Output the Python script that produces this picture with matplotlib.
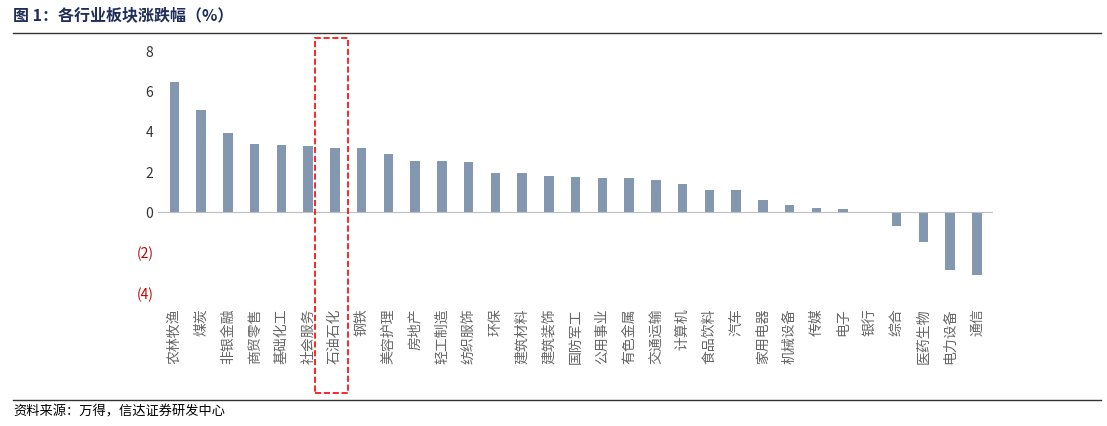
import matplotlib
matplotlib.use("Agg")
import matplotlib.pyplot as plt
from matplotlib.patches import Rectangle
from matplotlib.lines import Line2D

plt.rcParams['font.family'] = ['Noto Sans CJK SC', 'DejaVu Sans']

categories = ["农林牧渔","煤炭","非银金融","商贸零售","基础化工","社会服务","石油石化","钢铁","美容护理","房地产",
              "轻工制造","纺织服饰","环保","建筑材料","建筑装饰","国防军工","公用事业","有色金属","交通运输","计算机",
              "食品饮料","汽车","家用电器","机械设备","传媒","电子","银行","综合","医药生物","电力设备","通信"]
values = [6.45,5.1,3.95,3.4,3.35,3.3,3.2,3.2,2.9,2.55,2.55,2.5,1.95,1.95,1.8,1.75,1.7,1.7,1.6,1.4,
          1.1,1.1,0.6,0.35,0.2,0.15,0.0,-0.65,-1.45,-2.85,-3.1]
yticks = [-4,-2,0,2,4,6,8]
ylabels = ["(4)","(2)","0","2","4","6","8"]

fig = plt.figure(figsize=(11.07,4.26), dpi=100)
ax = fig.add_axes([0.143,0.312,0.754,0.568])
x = range(len(categories))
ax.bar(x, values, width=0.35, color="#8497b0")
ax.set_xlim(-0.6, len(categories)-0.4)
ax.set_ylim(-4, 8)
ax.set_yticks(yticks)
ax.set_yticklabels(ylabels, fontsize=10)
for t, v in zip(ax.get_yticklabels(), yticks):
    t.set_color("#c00000" if v < 0 else "#333333")
ax.set_xticks(list(x))
ax.set_xticklabels(categories, rotation=90, fontsize=10, color="#666666")
ax.tick_params(length=0)
ax.tick_params(axis='x', pad=3)
for t in ax.get_xticklabels():
    t.set_va('top')
    t.set_y(-0.045)
for s in ax.spines.values():
    s.set_visible(False)
ax.axhline(0, color="#bfbfbf", lw=0.8)

fig.text(0.012, 0.965, "图 1：各行业板块涨跌幅（%）", fontsize=11.5, fontweight='bold', va='center', color="#1f2d5a")
fig.add_artist(Line2D([0.012,0.995],[0.922,0.922], color="#333333", lw=1))
fig.add_artist(Line2D([0.012,0.995],[0.06,0.06], color="#333333", lw=1))
fig.text(0.012, 0.034, "资料来源：万得，信达证券研发中心", fontsize=9.5, style='italic', va='center')
fig.add_artist(Rectangle((315/1107, 1-393/426), 33/1107, 355/426, fill=False,
                         ec="red", ls="--", lw=1.2, transform=fig.transFigure))
fig.savefig("out.png")
